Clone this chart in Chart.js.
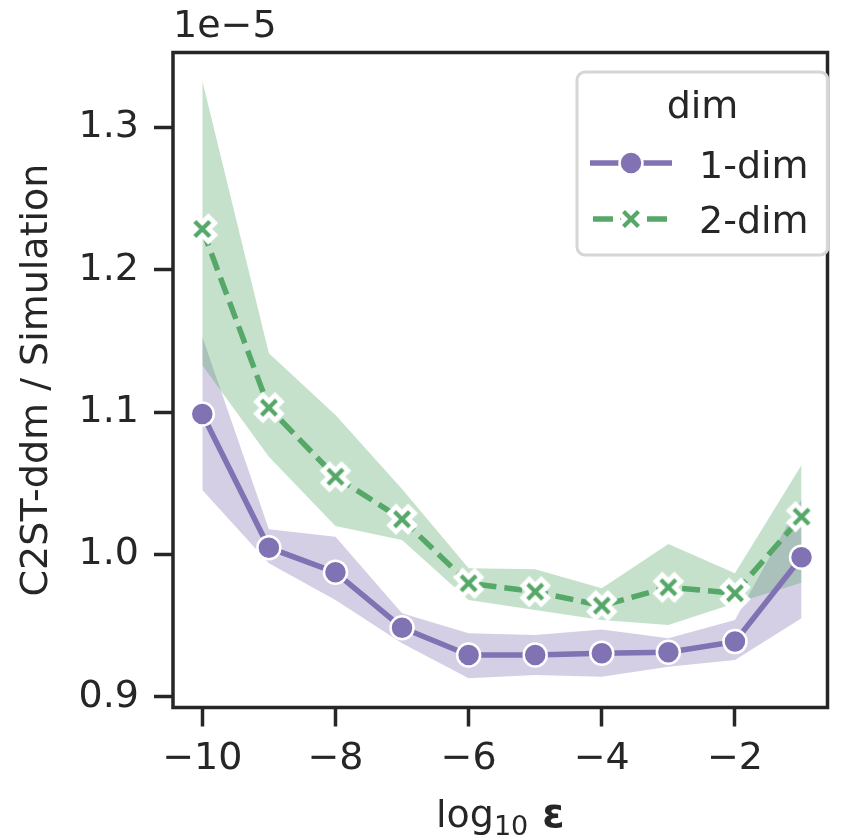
<!DOCTYPE html>
<html><head><meta charset="utf-8">
<script src="https://cdn.jsdelivr.net/npm/chart.js@4/dist/chart.umd.min.js"></script>
<style>html,body{margin:0;padding:0;background:#fff;}canvas{display:block;}</style>
</head><body>
<canvas id="c" width="845" height="839"></canvas>
<script>
// ---- data (values in units of 1e-5) ----
const logEps = [-10, -9, -8, -7, -6, -5, -4, -3, -2, -1];
const dim1Mean  = [1.0987, 1.0047, 0.9874, 0.9485, 0.9293, 0.9293, 0.9305, 0.9312, 0.9387, 0.9980];
const dim1Upper = [1.1530, 1.0176, 1.0124, 0.9586, 0.9445, 0.9434, 0.9473, 0.9410, 0.9539, 1.0387];
const dim1Lower = [1.0453, 0.9937, 0.9680, 0.9375, 0.9129, 0.9153, 0.9140, 0.9211, 0.9258, 0.9551];
const dim2Mean  = [1.2287, 1.1031, 1.0546, 1.0247, 0.9797, 0.9738, 0.9640, 0.9769, 0.9727, 1.0265];
const dim2Upper = [1.3329, 1.1413, 1.0980, 1.0460, 0.9902, 0.9895, 0.9762, 1.0073, 0.9867, 1.0628];
const dim2Lower = [1.1330, 1.0687, 1.0200, 1.0101, 0.9680, 0.9609, 0.9539, 0.9504, 0.9657, 0.9801];
const xTicks = [-10, -8, -6, -4, -2];
const yTicks = [0.9, 1.0, 1.1, 1.2, 1.3];
const seriesLabels = ['1-dim', '2-dim'];
const legendTitle = 'dim';
const yTitle = 'C2ST-ddm / Simulation';
const xTitleParts = ['log', '10', 'ε'];
const offsetText = '1e\u22125';

// ---- styles ----
const PURPLE = '#8172b3', GREEN = '#55a868', INK = '#262626';
const PURPLE_BAND = 'rgba(129,114,179,0.34)', GREEN_BAND = 'rgba(85,168,104,0.34)';
const FONT = 'DejaVu Sans';
const FS = 38;
const LW = 5.5;

function pts(ys){ return logEps.map((x,i)=>({x:x, y:ys[i]})); }

function makeXMarker(){
  const s = 38, c = document.createElement('canvas'); c.width = s; c.height = s;
  const g = c.getContext('2d');
  g.translate(s/2, s/2); g.rotate(Math.PI/4);
  const L = 13, w = 4.5;
  g.beginPath();
  g.moveTo(w, -L); g.lineTo(w, -w); g.lineTo(L, -w); g.lineTo(L, w); g.lineTo(w, w);
  g.lineTo(w, L); g.lineTo(-w, L); g.lineTo(-w, w); g.lineTo(-L, w); g.lineTo(-L, -w);
  g.lineTo(-w, -w); g.lineTo(-w, -L); g.closePath();
  g.fillStyle = GREEN; g.fill();
  g.lineJoin = 'miter'; g.lineWidth = 4.8; g.strokeStyle = '#fff'; g.stroke();
  return c;
}
const xMarker = makeXMarker();

const framePlugin = {
  id: 'frameAndText',
  afterDraw(chart){
    const ctx = chart.ctx, a = chart.chartArea;
    ctx.save();
    // frame
    ctx.strokeStyle = INK; ctx.lineWidth = 3.5;
    ctx.strokeRect(a.left, a.top, a.right - a.left, a.bottom - a.top);
    // offset text
    ctx.fillStyle = INK; ctx.textBaseline = 'alphabetic'; ctx.textAlign = 'left';
    ctx.font = FS + 'px "' + FONT + '"';
    ctx.fillText(offsetText, a.left, 37);
    // x title: log_10 eps
    const fMain = FS + 'px "' + FONT + '"';
    const fSub = Math.round(FS*0.72) + 'px "' + FONT + '"';
    const fBold = 'bold ' + (FS + 2) + 'px "' + FONT + '"';
    ctx.font = fMain; const w1 = ctx.measureText(xTitleParts[0]).width;
    ctx.font = fSub;  const w2 = ctx.measureText(xTitleParts[1]).width;
    ctx.font = fBold; const w3 = ctx.measureText(xTitleParts[2]).width;
    const gap = 14, total = w1 + w2 + gap + w3;
    let x0 = (a.left + a.right)/2 - total/2;
    const base = 827;
    ctx.font = fMain; ctx.fillText(xTitleParts[0], x0, base); x0 += w1;
    ctx.font = fSub;  ctx.fillText(xTitleParts[1], x0, base + 8); x0 += w2 + gap;
    ctx.font = fBold; ctx.fillText(xTitleParts[2], x0, base);
    // legend
    const bx = 577, by = 72, bw = 251, bh = 183;
    ctx.beginPath(); ctx.roundRect(bx, by, bw, bh, 8);
    ctx.fillStyle = 'rgba(255,255,255,0.85)'; ctx.fill();
    ctx.lineWidth = 3; ctx.strokeStyle = '#d6d6d6'; ctx.stroke();
    ctx.fillStyle = INK; ctx.font = fMain; ctx.textAlign = 'center';
    ctx.fillText(legendTitle, bx + bw/2, 118);
    ctx.textAlign = 'left';
    // entry 1
    ctx.strokeStyle = PURPLE; ctx.lineWidth = LW; ctx.lineCap = 'butt';
    ctx.beginPath(); ctx.moveTo(590, 163); ctx.lineTo(672, 163); ctx.stroke();
    ctx.beginPath(); ctx.arc(631, 163, 11.5, 0, Math.PI*2);
    ctx.fillStyle = PURPLE; ctx.fill(); ctx.lineWidth = 2.5; ctx.strokeStyle = '#fff'; ctx.stroke();
    ctx.fillStyle = INK; ctx.fillText(seriesLabels[0], 699, 178);
    // entry 2
    ctx.strokeStyle = GREEN; ctx.lineWidth = LW; ctx.setLineDash([20, 7]);
    ctx.beginPath(); ctx.moveTo(593, 219); ctx.lineTo(671, 219); ctx.stroke();
    ctx.setLineDash([]);
    ctx.drawImage(xMarker, 631 - xMarker.width/2, 219 - xMarker.height/2);
    ctx.fillStyle = INK; ctx.fillText(seriesLabels[1], 699, 233);
    ctx.restore();
  }
};

const tickFont = {family: FONT, size: FS};
const fmtMinus = v => (v < 0 ? '\u2212' + Math.abs(v) : String(v));

new Chart(document.getElementById('c'), {
  type: 'line',
  data: {
    datasets: [
      {label: seriesLabels[1], data: pts(dim2Mean), borderColor: GREEN, borderWidth: LW,
       borderDash: [18, 8], pointStyle: xMarker, pointRadius: 12, fill: false, tension: 0},
      {label: seriesLabels[0], data: pts(dim1Mean), borderColor: PURPLE, borderWidth: LW,
       pointStyle: 'circle', pointRadius: 11.5, pointBackgroundColor: PURPLE,
       pointBorderColor: '#fff', pointBorderWidth: 2.5, fill: false, tension: 0},
      {label: 'u2', data: pts(dim2Upper), borderWidth: 0, pointRadius: 0, fill: false},
      {label: 'l2', data: pts(dim2Lower), borderWidth: 0, pointRadius: 0, fill: '-1', backgroundColor: GREEN_BAND},
      {label: 'u1', data: pts(dim1Upper), borderWidth: 0, pointRadius: 0, fill: false},
      {label: 'l1', data: pts(dim1Lower), borderWidth: 0, pointRadius: 0, fill: '-1', backgroundColor: PURPLE_BAND}
    ]
  },
  options: {
    responsive: false, animation: false, events: [], devicePixelRatio: 1,
    layout: {padding: {top: 52.5, right: 2, left: 0, bottom: 0}},
    plugins: {legend: {display: false}, tooltip: {enabled: false}},
    scales: {
      x: {
        type: 'linear', min: -10.44, max: -0.61,
        afterBuildTicks: s => { s.ticks = xTicks.map(v => ({value: v})); },
        afterFit: s => { s.height = 131.5; },
        ticks: {font: tickFont, color: INK, padding: 10, autoSkip: false, maxRotation: 0, callback: v => fmtMinus(v)},
        grid: {drawOnChartArea: false, drawTicks: true, tickLength: 19, tickWidth: 3.5, tickColor: INK},
        border: {display: false},
        title: {display: false}
      },
      y: {
        type: 'linear', min: 0.8924, max: 1.3527,
        afterBuildTicks: s => { s.ticks = yTicks.map(v => ({value: v})); },
        afterFit: s => { s.width = 173; },
        ticks: {font: tickFont, color: INK, padding: 15, autoSkip: false, callback: v => v.toFixed(1)},
        grid: {drawOnChartArea: false, drawTicks: true, tickLength: 19, tickWidth: 3.5, tickColor: INK},
        border: {display: false},
        title: {display: true, text: yTitle, color: INK, font: {family: FONT, size: FS}, padding: {top: 14, bottom: 0}}
      }
    }
  },
  plugins: [framePlugin]
});
</script>
</body></html>
